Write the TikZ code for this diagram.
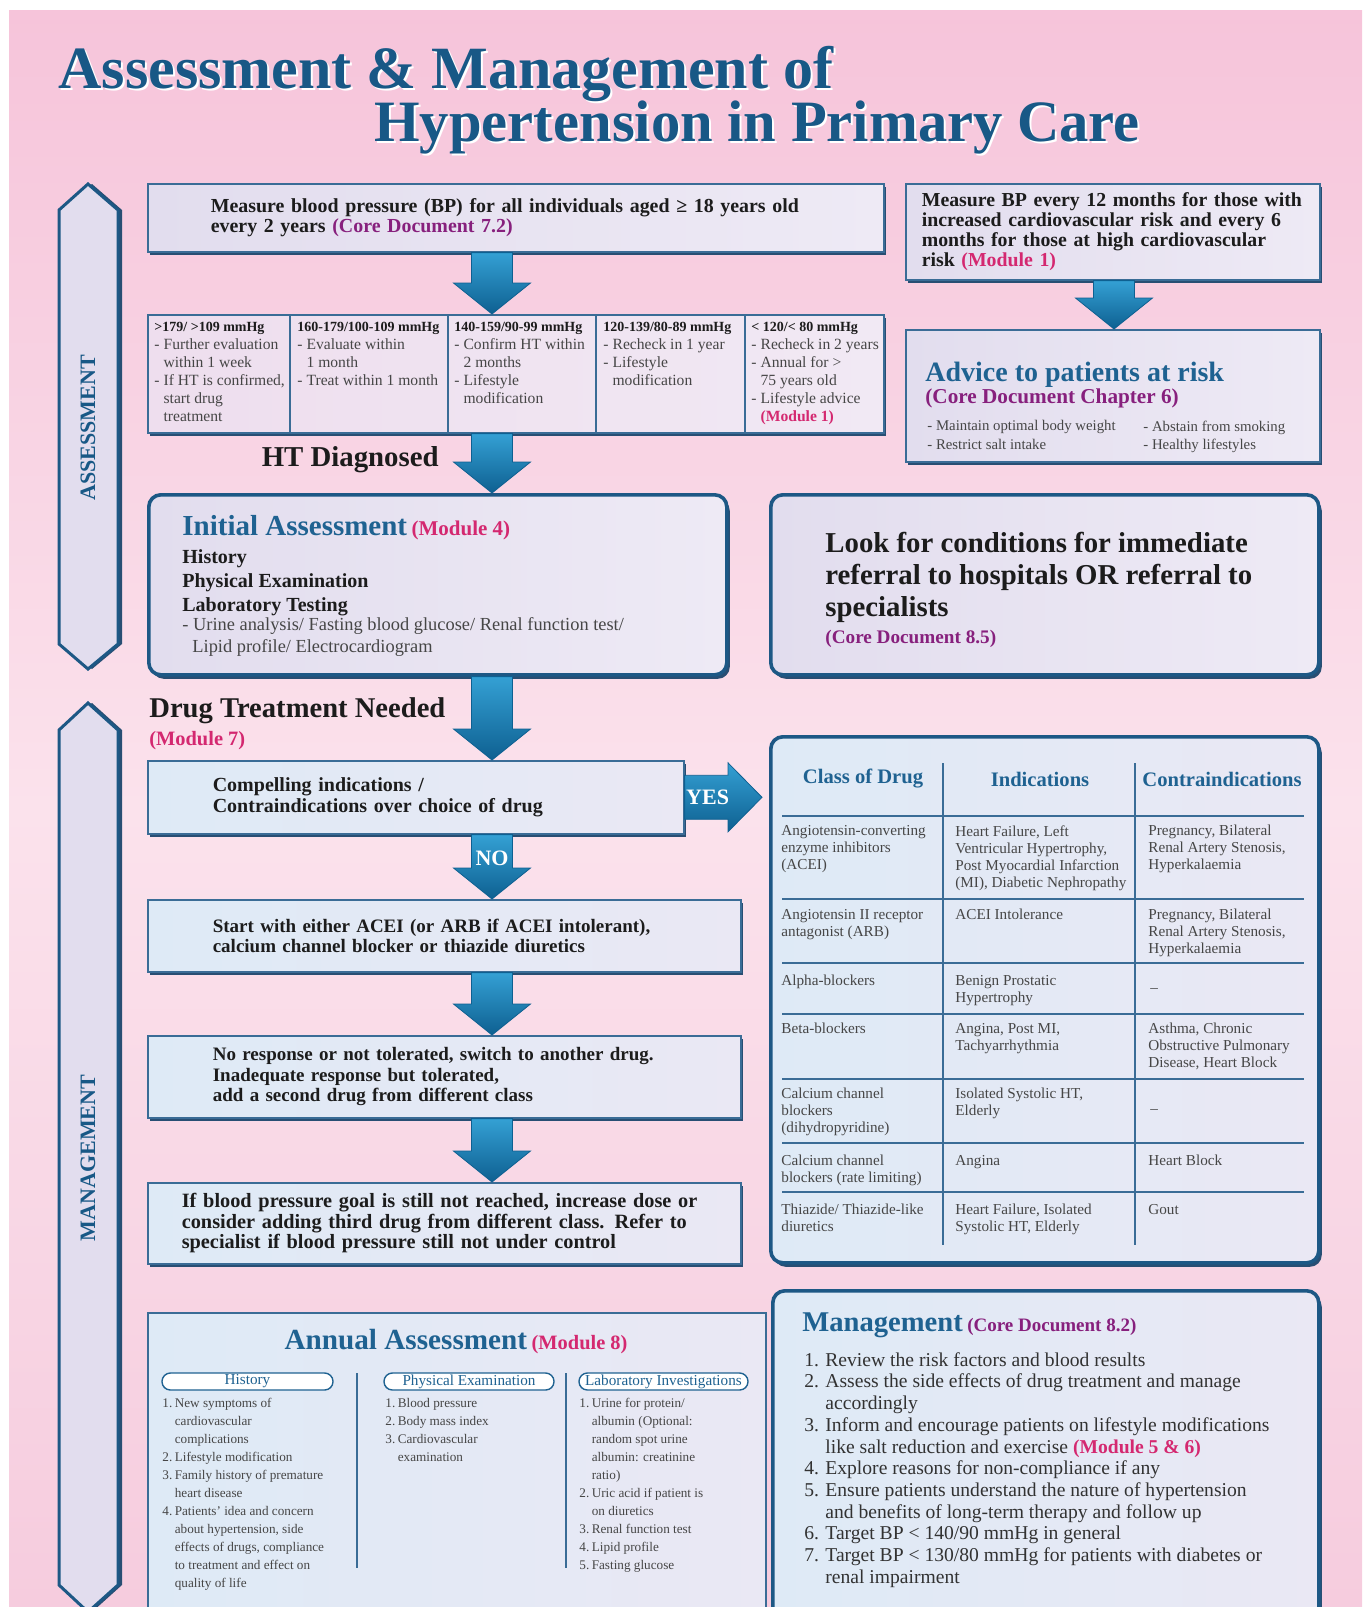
\documentclass[tikz,border=0pt]{standalone}
\usepackage{fontspec}
\setmainfont{Liberation Serif}
\usepackage{tikz}
\usepackage{xcolor}
\usetikzlibrary{positioning,calc,shadows}
\definecolor{HT-PinkTop}{RGB}{246,196,218}
\definecolor{HT-PinkMid}{RGB}{251,226,236}
\definecolor{HT-PinkBot}{RGB}{246,204,222}
\definecolor{HT-LavL}{RGB}{226,221,238}
\definecolor{HT-LavR}{RGB}{238,234,245}
\definecolor{HT-PinkL}{RGB}{238,222,238}
\definecolor{HT-PinkR}{RGB}{241,233,244}
\definecolor{HT-BlueL}{RGB}{222,234,246}
\definecolor{HT-BlueR}{RGB}{234,232,244}
\definecolor{HT-Edge}{RGB}{58,108,150}
\definecolor{HT-Deep}{RGB}{29,88,133}
\definecolor{HT-Shadow}{RGB}{40,78,115}
\definecolor{HT-ArrL}{RGB}{52,160,212}
\definecolor{HT-ArrD}{RGB}{14,96,145}
\definecolor{HT-Title}{RGB}{24,88,134}
\definecolor{HT-Head}{RGB}{31,98,145}
\definecolor{HT-Mod}{RGB}{212,40,112}
\definecolor{HT-Core}{RGB}{135,32,125}
\definecolor{HT-Gray}{RGB}{70,70,70}
\definecolor{HT-Dark}{RGB}{28,28,28}
\definecolor{HT-Dark2}{RGB}{50,50,50}
\newcommand{\fsz}[2]{\fontsize{#1}{#2}\selectfont}
\newcommand{\modref}[1]{{\color{HT-Mod}\bfseries #1}}
\newcommand{\coreref}[1]{{\color{HT-Core}\bfseries #1}}
\newcommand{\bphdr}[1]{{\fsz{7}{9}\bfseries\color{HT-Dark}#1}}
\newcommand{\bpdash}{\makebox[4.6pt][l]{-}}
\newcommand{\bpind}{\hspace*{4.6pt}}
\newcommand{\annum}[1]{\makebox[6.2pt][l]{#1.}}
\newcommand{\annind}{\hspace*{6.2pt}}
\newcommand{\mgnum}[1]{\makebox[10.5pt][l]{#1.}}
\newcommand{\mgind}{\hspace*{10.5pt}}
\newcommand{\fatdown}[2]{\path[fatarrow] ($(#1)+(-20.5,0)$) -- ($(#2)+(-20.5,-31)$) -- ($(#2)+(-38.5,-31)$) -- (#2) -- ($(#2)+(38.5,-31)$) -- ($(#2)+(20.5,-31)$) -- ($(#1)+(20.5,0)$) -- cycle;}

\begin{document}
\begin{tikzpicture}[x=0.5pt, y=-0.5pt, font=\fsz{9}{10},
  sqbox/.style={rectangle, draw=HT-Edge, line width=0.8pt, left color=HT-LavL, right color=HT-LavR, anchor=north west, inner ysep=0pt, align=left, text=HT-Dark, drop shadow={shadow xshift=1.2pt, shadow yshift=-1.8pt, fill=HT-Shadow, opacity=1}},
  bluebox/.style={sqbox, left color=HT-BlueL, right color=HT-BlueR},
  rdbox/.style={rectangle, rounded corners=6pt, draw=HT-Deep, line width=1.8pt, left color=HT-BlueL, right color=HT-BlueR, anchor=north west, inner sep=0pt, drop shadow={shadow xshift=1.5pt, shadow yshift=-2pt, fill=HT-Shadow, opacity=1}},
  txt/.style={anchor=north west, inner sep=0pt, align=left, text=HT-Gray},
  fatarrow/.style={top color=HT-ArrL, bottom color=HT-ArrD, draw=HT-ArrD, line width=0.4pt},
  pill/.style={rectangle, rounded corners=4.2pt, draw=HT-Head, line width=0.7pt, fill=white, minimum height=8.5pt, inner sep=0pt, text=HT-Head, font=\fsz{7.6}{8}},
  sidebar/.style={draw=HT-Deep, line width=1.5pt, fill=HT-LavL, drop shadow={shadow xshift=2pt, shadow yshift=0pt, fill=HT-Shadow, opacity=1}},
  arrlbl/.style={inner sep=0pt, text=white, font=\fsz{11}{11}\bfseries},
  rule/.style={draw=HT-Edge, line width=0.7pt}
]

\useasboundingbox (0,0) rectangle (1362,1607);
\fill[white] (0,0) rectangle (1362,1607);
\shade[top color=HT-PinkTop, bottom color=HT-PinkBot, middle color=HT-PinkMid] (9,10) rectangle (1362,1607);

\node[anchor=base west, inner sep=0pt, text=white, font=\fsz{30}{30}\bfseries] (t1s) at (60,90) {Assessment \& Management of};
\node[anchor=base west, inner sep=0pt, text=HT-Title, font=\fsz{30}{30}\bfseries] (t1) at (58,88) {Assessment \& Management of};
\node[anchor=base west, inner sep=0pt, text=white, font=\fsz{29.3}{30}\bfseries] (t2s) at (376,143) {Hypertension in Primary Care};
\node[anchor=base west, inner sep=0pt, text=HT-Title, font=\fsz{29.3}{30}\bfseries] (t2) at (374,141) {Hypertension in Primary Care};

\path[sidebar] (59,210) -- (88,184) -- (118,210) -- (118,644) -- (88,669) -- (59,644) -- cycle;
\path[sidebar] (59,730) -- (88,703) -- (118,730) -- (118,1585) -- (88,1612) -- (59,1585) -- cycle;
\node[rotate=90, font=\fsz{11}{11}\bfseries, text=HT-Title] (asslbl) at (88,428) {ASSESSMENT};
\node[rotate=90, font=\fsz{11}{11}\bfseries, text=HT-Title] (mgtlbl) at (88,1158) {MANAGEMENT};

\node[sqbox, minimum width=368pt, minimum height=34pt, text width=305pt, inner xsep=31.5pt, font=\fsz{9.95}{10}\bfseries] (bp) at (147,183) {Measure blood pressure (BP) for all individuals aged ≥ 18 years old\\every 2 years \coreref{(Core Document 7.2)}};

\node[sqbox, minimum width=207pt, minimum height=48pt, text width=191pt, inner xsep=8pt, font=\fsz{9.9}{10}\bfseries] (rt) at (905,183) {Measure BP every 12 months for those with\\increased cardiovascular risk and every 6\\months for those at high cardiovascular\\risk \modref{(Module 1)}};

\node[sqbox, minimum width=368pt, minimum height=59pt, left color=HT-PinkL, right color=HT-PinkR] (bpt) at (147,314) {};
\draw[rule] (290,314) -- (290,432);
\draw[rule] (448,314) -- (448,432);
\draw[rule] (596,314) -- (596,432);
\draw[rule] (745,314) -- (745,432);
\node[txt, font=\fsz{7.8}{9}] (bpa) at (154,322) {\bphdr{>179/ >109 mmHg}\\\bpdash Further evaluation\\\bpind within 1 week\\\bpdash If HT is confirmed,\\\bpind start drug\\\bpind treatment};
\node[txt, font=\fsz{7.8}{9}] (bpb) at (297,322) {\bphdr{160-179/100-109 mmHg}\\\bpdash Evaluate within\\\bpind 1 month\\\bpdash Treat within 1 month};
\node[txt, font=\fsz{7.8}{9}] (bpc) at (454,322) {\bphdr{140-159/90-99 mmHg}\\\bpdash Confirm HT within\\\bpind 2 months\\\bpdash Lifestyle\\\bpind modification};
\node[txt, font=\fsz{7.8}{9}] (bpd) at (603,322) {\bphdr{120-139/80-89 mmHg}\\\bpdash Recheck in 1 year\\\bpdash Lifestyle\\\bpind modification};
\node[txt, font=\fsz{7.8}{9}] (bpe) at (751,322) {\bphdr{< 120/< 80 mmHg}\\\bpdash Recheck in 2 years\\\bpdash Annual for >\\\bpind 75 years old\\\bpdash Lifestyle advice\\\bpind\modref{(Module 1)}};

\node[sqbox, minimum width=207pt, minimum height=66pt] (adv) at (905,329) {};
\node[txt, font=\fsz{14}{15}\bfseries, text=HT-Head] (advh) at ([shift={(20,33)}]adv.north west) {Advice to patients at risk};
\node[txt, font=\fsz{10.6}{11}\bfseries, text=HT-Core] (advc) at (advh.south west) {(Core Document Chapter 6)};
\node[txt, font=\fsz{7.4}{9.2}] (adva) at ([shift={(2,12)}]advc.south west) {- Maintain optimal body weight\\- Restrict salt intake};
\node[txt, font=\fsz{7.4}{9.2}] (advb) at ([xshift=108pt]adva.north west) {- Abstain from smoking\\- Healthy lifestyles};

\node[anchor=east, inner sep=0pt, font=\fsz{14.4}{15}\bfseries, text=HT-Dark] (htdx) at (439,460) {HT Diagnosed};

\node[rdbox, left color=HT-LavL, right color=HT-LavR, minimum width=289pt, minimum height=90pt] (init) at (147,493) {};
\node[anchor=base west, inner sep=0pt] (ihead) at (182,535) {{\fsz{14.5}{15}\bfseries\color{HT-Head}Initial Assessment} {\fsz{10.5}{11}\bfseries\color{HT-Mod}(Module 4)}};
\node[txt, font=\fsz{10}{12}\bfseries, text=HT-Dark] (ilist) at (182,549) {History\\Physical Examination\\Laboratory Testing};
\node[txt, font=\fsz{9.2}{11}] (itest) at (182,617) {- Urine analysis/ Fasting blood glucose/ Renal function test/\\\hspace*{5pt}Lipid profile/ Electrocardiogram};

\node[rdbox, left color=HT-LavL, right color=HT-LavR, minimum width=274pt, minimum height=90pt] (look) at (769,493) {};
\node[txt, font=\fsz{14.4}{16}\bfseries, text=HT-Dark] (ltxt) at (825,532) {Look for conditions for immediate\\referral to hospitals OR referral to\\specialists};
\node[txt, font=\fsz{9.6}{10}\bfseries, text=HT-Core] (lref) at (825,630) {(Core Document 8.5)};

\node[anchor=west, inner sep=0pt, font=\fsz{14.3}{15}\bfseries, text=HT-Dark] (dtn) at (149,711) {Drug Treatment Needed};
\node[txt, font=\fsz{10.2}{11}\bfseries, text=HT-Mod] (m7) at ([yshift=-3pt]dtn.south west) {(Module 7)};

\node[bluebox, minimum width=268pt, minimum height=36.5pt, text width=203pt, inner xsep=32.5pt, font=\fsz{10}{10.3}\bfseries] (comp) at (147,760) {Compelling indications /\\Contraindications over choice of drug};
\node[bluebox, minimum width=296.5pt, minimum height=36pt, text width=231.5pt, inner xsep=32.5pt, font=\fsz{9.5}{10.3}\bfseries] (start) at (147,899) {Start with either ACEI (or ARB if ACEI intolerant),\\calcium channel blocker or thiazide diuretics};
\node[bluebox, minimum width=296.5pt, minimum height=41pt, text width=231.5pt, inner xsep=32.5pt, font=\fsz{9.5}{10.3}\bfseries] (resp) at (147,1035) {No response or not tolerated, switch to another drug.\\Inadequate response but tolerated,\\add a second drug from different class};
\node[bluebox, minimum width=296.5pt, minimum height=40.5pt, text width=262.5pt, inner xsep=17pt, font=\fsz{10.15}{10.3}\bfseries] (ifbp) at (147,1182) {If blood pressure goal is still not reached, increase dose or\\consider adding third drug from different class. Refer to\\specialist if blood pressure still not under control};

\node[rdbox, minimum width=274pt, minimum height=263pt] (drug) at (769,735) {};
\node[inner sep=0pt, font=\fsz{10.3}{11}\bfseries, text=HT-Head] (hcls) at (863,779) {Class of Drug};
\node[inner sep=0pt, font=\fsz{10.3}{11}\bfseries, text=HT-Head] (hind) at (1040,779) {Indications};
\node[inner sep=0pt, font=\fsz{10.3}{11}\bfseries, text=HT-Head] (hcon) at (1222,779) {Contraindications};
\draw[rule] (943,763) -- (943,1245);
\draw[rule] (1135,763) -- (1135,1245);
\draw[rule] (782,816) -- (1304,816);
\draw[rule] (782,899) -- (1304,899);
\draw[rule] (782,963) -- (1304,963);
\draw[rule] (782,1014) -- (1304,1014);
\draw[rule] (782,1079) -- (1304,1079);
\draw[rule] (782,1143) -- (1304,1143);
\draw[rule] (782,1192) -- (1304,1192);
\node[txt, font=\fsz{7.6}{8.5}] (acei) at (781,825) {Angiotensin-converting\\enzyme inhibitors\\(ACEI)};
\node[txt, font=\fsz{7.6}{8.5}] (aceiind) at (955,825) {Heart Failure, Left\\Ventricular Hypertrophy,\\Post Myocardial Infarction\\(MI), Diabetic Nephropathy};
\node[txt, font=\fsz{7.6}{8.5}] (aceicon) at (1148,825) {Pregnancy, Bilateral\\Renal Artery Stenosis,\\Hyperkalaemia};
\node[txt, font=\fsz{7.6}{8.5}] (arb) at (781,909) {Angiotensin II receptor\\antagonist (ARB)};
\node[txt, font=\fsz{7.6}{8.5}] (arbind) at (955,909) {ACEI Intolerance};
\node[txt, font=\fsz{7.6}{8.5}] (arbcon) at (1148,909) {Pregnancy, Bilateral\\Renal Artery Stenosis,\\Hyperkalaemia};
\node[txt, font=\fsz{7.6}{8.5}] (alpha) at (781,975) {Alpha-blockers};
\node[txt, font=\fsz{7.6}{8.5}] (alphaind) at (955,975) {Benign Prostatic\\Hypertrophy};
\node[txt, font=\fsz{7.6}{8.5}, anchor=west] (alphacon) at (1150,991) {--};
\node[txt, font=\fsz{7.6}{8.5}] (beta) at (781,1023) {Beta-blockers};
\node[txt, font=\fsz{7.6}{8.5}] (betaind) at (955,1023) {Angina, Post MI,\\Tachyarrhythmia};
\node[txt, font=\fsz{7.6}{8.5}] (betacon) at (1148,1023) {Asthma, Chronic\\Obstructive Pulmonary\\Disease, Heart Block};
\node[txt, font=\fsz{7.6}{8.5}] (ccbd) at (781,1088) {Calcium channel\\blockers\\(dihydropyridine)};
\node[txt, font=\fsz{7.6}{8.5}] (ccbdind) at (955,1088) {Isolated Systolic HT,\\Elderly};
\node[txt, font=\fsz{7.6}{8.5}, anchor=west] (ccbdcon) at (1150,1112) {--};
\node[txt, font=\fsz{7.6}{8.5}] (ccbr) at (781,1155) {Calcium channel\\blockers (rate limiting)};
\node[txt, font=\fsz{7.6}{8.5}] (ccbrind) at (955,1155) {Angina};
\node[txt, font=\fsz{7.6}{8.5}] (ccbrcon) at (1148,1155) {Heart Block};
\node[txt, font=\fsz{7.6}{8.5}] (thz) at (781,1204) {Thiazide/ Thiazide-like\\diuretics};
\node[txt, font=\fsz{7.6}{8.5}] (thzind) at (955,1204) {Heart Failure, Isolated\\Systolic HT, Elderly};
\node[txt, font=\fsz{7.6}{8.5}] (thzcon) at (1148,1204) {Gout};

\node[draw=HT-Edge, line width=1pt, left color=HT-BlueL, right color=HT-BlueR, anchor=north west, inner sep=0pt, minimum width=309pt, minimum height=159pt] (annual) at (147,1312) {};
\node[anchor=base, inner sep=0pt] (annh) at (456,1349) {{\fsz{14.6}{15}\bfseries\color{HT-Head}Annual Assessment} {\fsz{10.2}{11}\bfseries\color{HT-Mod}(Module 8)}};
\node[pill, minimum width=85.5pt] (phist) at (247.5,1381.5) {History};
\node[pill, minimum width=85pt] (pphys) at (469,1381.5) {Physical Examination};
\node[pill, minimum width=84.5pt] (plab) at (663.5,1381.5) {Laboratory Investigations};
\draw[rule] (357,1373) -- (357,1568);
\draw[rule] (566,1373) -- (566,1568);
\node[txt, font=\fsz{6.6}{9}] (lhist) at (162,1398) {\annum{1}New symptoms of\\\annind cardiovascular\\\annind complications\\\annum{2}Lifestyle modification\\\annum{3}Family history of premature\\\annind heart disease\\\annum{4}Patients' idea and concern\\\annind about hypertension, side\\\annind effects of drugs, compliance\\\annind to treatment and effect on\\\annind quality of life};
\node[txt, font=\fsz{6.6}{9}] (lphys) at (385,1398) {\annum{1}Blood pressure\\\annum{2}Body mass index\\\annum{3}Cardiovascular\\\annind examination};
\node[txt, font=\fsz{6.6}{9}] (llab) at (579,1398) {\annum{1}Urine for protein/\\\annind albumin (Optional:\\\annind random spot urine\\\annind albumin: creatinine\\\annind ratio)\\\annum{2}Uric acid if patient is\\\annind on diuretics\\\annum{3}Renal function test\\\annum{4}Lipid profile\\\annum{5}Fasting glucose};

\node[rdbox, minimum width=273pt, minimum height=171pt] (mgmt) at (771,1289) {};
\node[anchor=base west, inner sep=0pt] (mgh) at (802,1331) {{\fsz{14.3}{15}\bfseries\color{HT-Head}Management} {\fsz{9.5}{10}\bfseries\color{HT-Core}(Core Document 8.2)}};
\node[txt, font=\fsz{9.8}{10.85}, text=HT-Dark2] (mgl) at (804,1352) {\mgnum{1}Review the risk factors and blood results\\\mgnum{2}Assess the side effects of drug treatment and manage\\\mgind accordingly\\\mgnum{3}Inform and encourage patients on lifestyle modifications\\\mgind like salt reduction and exercise \modref{(Module 5 \& 6)}\\\mgnum{4}Explore reasons for non-compliance if any\\\mgnum{5}Ensure patients understand the nature of hypertension\\\mgind and benefits of long-term therapy and follow up\\\mgnum{6}Target BP < 140/90 mmHg in general\\\mgnum{7}Target BP < 130/80 mmHg for patients with diabetes or\\\mgind renal impairment};

\coordinate (axis) at (492,0);
\coordinate (raxis) at (1114,0);
\fatdown{bp.south -| axis}{bpt.north -| axis}
\fatdown{bpt.south -| axis}{init.north -| axis}
\fatdown{init.south -| axis}{comp.north -| axis}
\fatdown{comp.south -| axis}{start.north -| axis}
\fatdown{start.south -| axis}{resp.north -| axis}
\fatdown{resp.south -| axis}{ifbp.north -| axis}
\fatdown{rt.south -| raxis}{adv.north -| raxis}
\path[fatarrow] ($(comp.east)+(0,-22)$) -- ($(comp.east -| drug.west)+(-41,-22)$) -- ($(comp.east -| drug.west)+(-41,-34.5)$) -- ($(comp.east -| drug.west)+(-7,0)$) -- ($(comp.east -| drug.west)+(-41,34.5)$) -- ($(comp.east -| drug.west)+(-41,22)$) -- ($(comp.east)+(0,22)$) -- cycle;
\node[arrlbl] (yes) at ($(comp.east)+(23,0)$) {YES};
\node[arrlbl] (no) at ($(comp.south -| axis)+(0,24)$) {NO};

\end{tikzpicture}
\end{document}
